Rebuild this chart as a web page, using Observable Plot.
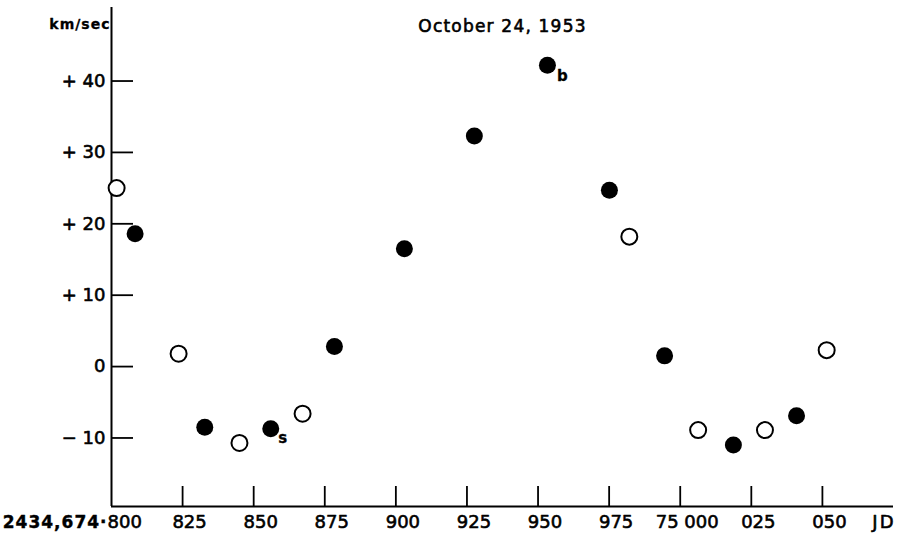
<!DOCTYPE html>
<html>
<head>
<meta charset="utf-8">
<script src="https://cdn.jsdelivr.net/npm/d3@7"></script>
<script src="https://cdn.jsdelivr.net/npm/@observablehq/plot@0.6"></script>
<style>
  html, body { margin: 0; padding: 0; background: #fff; }
  #chart svg { display: block; }
</style>
</head>
<body>
<div id="chart"></div>
<script>
// Open circles (JD fraction, km/sec)
const openX = [0.8018, 0.8236, 0.8450, 0.8672, 0.9821, 1.0063, 1.0298, 1.0515];
const openY = [25.0, 1.8, -10.7, -6.6, 18.2, -8.9, -8.9, 2.3];
// Filled circles
const filledX = [0.8083, 0.8328, 0.8560, 0.8784, 0.9030, 0.9276, 0.9533, 0.9751, 0.9945, 1.0187, 1.0409];
const filledY = [18.6, -8.5, -8.7, 2.8, 16.5, 32.3, 42.2, 24.7, 1.5, -11.0, -6.9];
// Point labels (index into filled series)
const labelB = {i: 6, text: "b"};
const labelS = {i: 2, text: "s"};

const xTicks = [0.800, 0.825, 0.850, 0.875, 0.900, 0.925, 0.950, 0.975, 1.000, 1.025, 1.050];
const xTickLabels = ["800", "825", "850", "875", "900", "925", "950", "975", "75 000", "025", "050"];
const xPrefix = "2434,674·";
const yTicks = [-10, 0, 10, 20, 30, 40];
const yTickLabels = ["− 10", "0", "+ 10", "+ 20", "+ 30", "+ 40"];
const xDomain = [0.8, 1.075];
const yDomain = [-19.6, 50.3];
const title = "October 24, 1953";
const yUnit = "km/sec";
const xUnit = "JD";

const openPts = openX.map((x, i) => ({x, y: openY[i]}));
const filledPts = filledX.map((x, i) => ({x, y: filledY[i]}));
const xTickData = xTicks.map((x, i) => ({x, label: xTickLabels[i]}));
const yTickData = yTicks.map((y, i) => ({y, label: yTickLabels[i]}));

const W = 899, H = 539;
const mL = 111, mR = 6, mT = 7, mB = 33;
const frameH = H - mT - mB, frameW = W - mL - mR;
const font = "DejaVu Sans, sans-serif";
const ink = {fill: "#000", stroke: "#000", strokeWidth: 0.6};

function pointLabel(lab, dx, dy) {
  return Plot.text([lab], {x: d => filledX[d.i], y: d => filledY[d.i], text: d => d.text,
    dx, dy, fontSize: 15, fontWeight: "bold", textAnchor: "middle", lineAnchor: "middle", ...ink, strokeWidth: 0.3});
}

const chart = Plot.plot({
  width: W,
  height: H,
  marginLeft: mL,
  marginRight: mR,
  marginTop: mT,
  marginBottom: mB,
  style: {background: "#fff", fontFamily: font},
  x: {domain: xDomain, axis: null},
  y: {domain: yDomain, axis: null},
  marks: [
    // axis lines
    Plot.ruleX([xDomain[0]], {stroke: "#000", strokeWidth: 2}),
    Plot.ruleY([yDomain[0]], {stroke: "#000", strokeWidth: 2}),
    // inward ticks
    Plot.ruleX(xTicks.slice(1), {x: d => d, stroke: "#000", strokeWidth: 1.8, insetTop: frameH - 20}),
    Plot.ruleY(yTicks, {y: d => d, stroke: "#000", strokeWidth: 1.8, insetRight: frameW - 22}),
    // x tick labels
    Plot.text(xTickData.slice(1), {x: "x", text: "label", frameAnchor: "bottom", dy: 16, dx: 7,
      fontSize: 18, textAnchor: "middle", lineAnchor: "middle", ...ink}),
    Plot.text([xTickData[0]], {x: "x", text: "label", frameAnchor: "bottom", dy: 16, dx: -4,
      fontSize: 18, textAnchor: "start", lineAnchor: "middle", ...ink}),
    Plot.text([xPrefix], {x: xDomain[0], text: d => d, frameAnchor: "bottom", dy: 16, dx: -4,
      fontSize: 17, fontWeight: "bold", textAnchor: "end", lineAnchor: "middle", ...ink, strokeWidth: 0.4}),
    Plot.text([xUnit], {x: xDomain[1], text: d => d, frameAnchor: "bottom", dy: 16, dx: 2,
      fontSize: 18, textAnchor: "end", lineAnchor: "middle", ...ink}),
    // y tick labels
    Plot.text(yTickData, {y: "y", text: "label", frameAnchor: "left", dx: -6,
      fontSize: 18, textAnchor: "end", lineAnchor: "middle", ...ink}),
    Plot.text([yUnit], {text: d => d, frameAnchor: "top-left", dx: -1, dy: 17,
      fontSize: 14, fontWeight: "bold", textAnchor: "end", lineAnchor: "middle", ...ink, strokeWidth: 0.3}),
    // title
    Plot.text([title], {text: d => d, frameAnchor: "top", dy: 19,
      fontSize: 17, textAnchor: "middle", lineAnchor: "middle", ...ink}),
    // data points
    Plot.dot(openPts, {x: "x", y: "y", r: 8, fill: "#fff", stroke: "#000", strokeWidth: 2}),
    Plot.dot(filledPts, {x: "x", y: "y", r: 8.5, fill: "#000", stroke: "none"}),
    pointLabel(labelB, 15, 11),
    pointLabel(labelS, 12, 10)
  ]
});

// letter spacing (not a Plot text option): applied after rendering
const spacing = new Map([[title, 1.2], [xPrefix, 1], [yUnit, 1], [xUnit, 2]]);
d3.select(chart).selectAll("text").each(function() {
  const s = spacing.get(this.textContent);
  if (s != null) this.setAttribute("letter-spacing", s);
});
document.getElementById("chart").appendChild(chart);
</script>
</body>
</html>
